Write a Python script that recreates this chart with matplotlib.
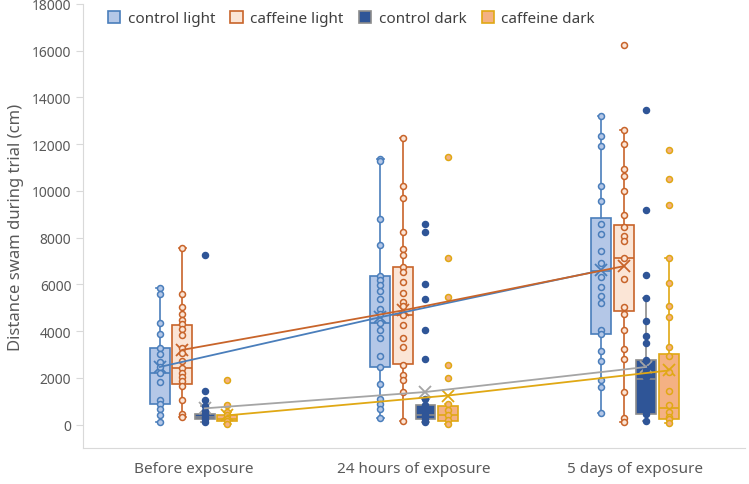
import numpy as np
import matplotlib
matplotlib.use("Agg")
import matplotlib.pyplot as plt
from matplotlib.patches import Patch

plt.rcParams["font.family"] = ["Noto Sans", "DejaVu Sans"]

groups = ["Before exposure", "24 hours of exposure", "5 days of exposure"]
series = ["control light", "caffeine light", "control dark", "caffeine dark"]

# individual fish values (cm)
ctrl_light_pts = [
    [5850, 5570, 4360, 3860, 3290, 3030, 2700, 2470, 2220, 1820, 1040, 870, 680, 400, 110],
    [11370, 11260, 8810, 7700, 6360, 6170, 5960, 5700, 5370, 4930, 4750, 4360, 4030, 3700, 2940, 2470, 1750, 1110, 900, 680, 290],
    [13200, 12330, 11900, 10190, 9560, 8590, 8140, 7450, 6910, 6320, 5910, 5500, 5220, 4030, 3890, 3150, 2710, 1920, 1610, 510],
]
caf_light_pts = [
    [7570, 5570, 5030, 4720, 4460, 4290, 4100, 3820, 3290, 3080, 2720, 2440, 2220, 2040, 1870, 1650, 1040, 470, 330],
    [12260, 10200, 9690, 8240, 7500, 7270, 6740, 6530, 6100, 5640, 5270, 5080, 4680, 4250, 3710, 3320, 2540, 2140, 1920, 1400, 160],
    [16240, 12610, 12010, 10950, 10630, 10000, 8980, 8450, 8070, 7840, 7140, 6240, 5030, 4750, 4030, 3250, 2820, 1400, 290, 110],
]
ctrl_dark_pts = [
    [7240, 1440, 1040, 780, 600, 450, 350, 230, 110],
    [8580, 8240, 6030, 5370, 4030, 2820, 1110, 830, 610, 400, 230, 110],
    [13480, 9190, 6410, 5430, 4420, 3780, 3490, 2750, 2390, 2040, 1610, 1180, 830, 440, 160],
]
caf_dark_pts = [
    [1900, 830, 560, 430, 260, 140, 10],
    [11440, 7130, 5470, 2540, 2000, 900, 610, 430, 190, 10],
    [11770, 10500, 9410, 7130, 6070, 5080, 4590, 3320, 2920, 2250, 1430, 830, 540, 330, 230, 90],
]

# box statistics
ctrl_light_q1 = [870, 2490, 3890]
ctrl_light_med = [2220, 4360, 6570]
ctrl_light_q3 = [3290, 6360, 8840]
ctrl_light_lo = [110, 290, 510]
ctrl_light_hi = [5850, 11370, 13200]
ctrl_light_mean = [2470, 4600, 6600]

caf_light_q1 = [1750, 2580, 4860]
caf_light_med = [2440, 4700, 7140]
caf_light_q3 = [4250, 6740, 8560]
caf_light_lo = [330, 160, 110]
caf_light_hi = [7570, 12260, 12610]
caf_light_mean = [3200, 4890, 6780]

ctrl_dark_q1 = [230, 230, 440]
ctrl_dark_med = [350, 430, 1940]
ctrl_dark_q3 = [470, 830, 2750]
ctrl_dark_lo = [110, 110, 160]
ctrl_dark_hi = [780, 1110, 5430]
ctrl_dark_mean = [700, 1400, 2470]

caf_dark_q1 = [140, 160, 230]
caf_dark_med = [260, 430, 730]
caf_dark_q3 = [430, 780, 3020]
caf_dark_lo = [10, 10, 90]
caf_dark_hi = [560, 900, 7130]
caf_dark_mean = [400, 1250, 2320]

pts = [ctrl_light_pts, caf_light_pts, ctrl_dark_pts, caf_dark_pts]
q1s = [ctrl_light_q1, caf_light_q1, ctrl_dark_q1, caf_dark_q1]
meds = [ctrl_light_med, caf_light_med, ctrl_dark_med, caf_dark_med]
q3s = [ctrl_light_q3, caf_light_q3, ctrl_dark_q3, caf_dark_q3]
los = [ctrl_light_lo, caf_light_lo, ctrl_dark_lo, caf_dark_lo]
his = [ctrl_light_hi, caf_light_hi, ctrl_dark_hi, caf_dark_hi]
means = [ctrl_light_mean, caf_light_mean, ctrl_dark_mean, caf_dark_mean]

faces = ["#b4c7e7", "#fbe5d6", "#2f5597", "#f4b183"]
edges = ["#4a7ebb", "#c8642a", "#8c8c8c", "#e0a814"]
mean_cols = ["#4a7ebb", "#c8642a", "#a5a5a5", "#e0a814"]
mk_edges = ["#4a7ebb", "#c8642a", "#2f5597", "#e0a814"]
offsets = [-0.153, -0.051, 0.051, 0.153]
grey = "#595959"

fig = plt.figure(figsize=(7.49, 4.85), dpi=100)
ax = fig.add_axes([0.111, 0.074, 0.884, 0.916])

x = np.arange(len(groups))
for i in range(len(series)):
    pos = x + offsets[i]
    stats = []
    for g in range(len(groups)):
        stats.append(dict(med=meds[i][g], q1=q1s[i][g], q3=q3s[i][g],
                          whislo=los[i][g], whishi=his[i][g], mean=means[i][g], fliers=[]))
    ax.bxp(stats, positions=pos, widths=0.09, patch_artist=True, showmeans=True,
           boxprops=dict(facecolor=faces[i], edgecolor=edges[i], linewidth=1.2),
           medianprops=dict(color=edges[i], linewidth=1.2),
           whiskerprops=dict(color=edges[i], linewidth=1.2),
           capprops=dict(color=edges[i], linewidth=1.2),
           meanprops=dict(marker="x", markeredgecolor=mean_cols[i], markersize=9, markeredgewidth=1.3),
           capwidths=0.03, manage_ticks=False, zorder=2)
    for g in range(len(groups)):
        ax.plot(np.full(len(pts[i][g]), pos[g]), pts[i][g], "o", ms=4.3, mew=1.1,
                mfc=faces[i], mec=mk_edges[i], zorder=3)
    ax.plot(pos, means[i], color=mean_cols[i], lw=1.3, zorder=4)

ax.set_xlim(-0.5, 2.5)
ax.set_ylim(-1000, 18000)
ax.set_yticks(np.arange(0, 18001, 2000))
ax.set_xticks(x)
ax.set_xticklabels(groups, fontsize=11, color=grey)
ax.tick_params(axis="x", length=0, pad=9)
ax.tick_params(axis="y", labelsize=10, colors=grey, length=5, color="#d9d9d9")
for s in ["top", "right"]:
    ax.spines[s].set_visible(False)
for s in ["left", "bottom"]:
    ax.spines[s].set_color("#d9d9d9")
ax.set_ylabel("Distance swam during trial (cm)", fontsize=12, color=grey, labelpad=6)

handles = [Patch(facecolor=faces[i], edgecolor=mk_edges[i] if i != 2 else "#8c8c8c", linewidth=1.2) for i in range(4)]
leg = ax.legend(handles, series, loc="upper center", bbox_to_anchor=(0.405, 1.015), ncol=4, frameon=False,
                fontsize=11, handlelength=0.8, handleheight=0.8, handletextpad=0.5, columnspacing=1.0)
for t in leg.get_texts():
    t.set_color("#404040")

fig.savefig("out.png", dpi=100)
